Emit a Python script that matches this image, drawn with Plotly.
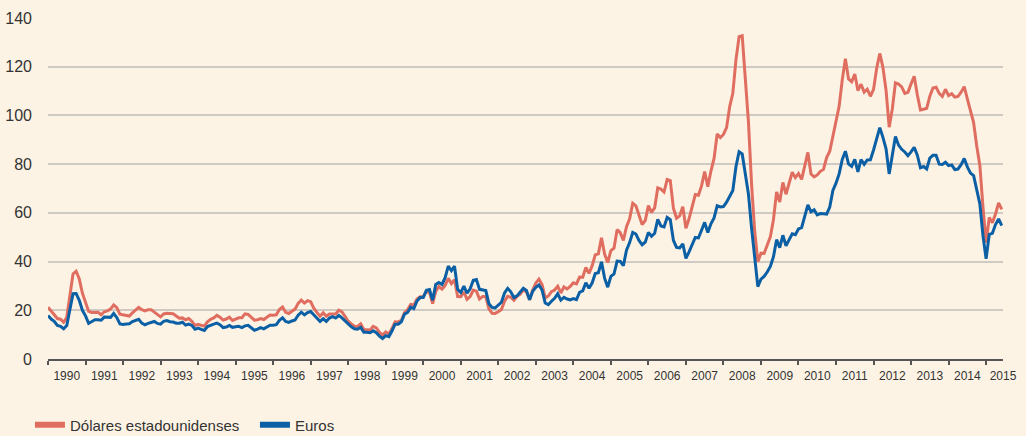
import plotly.graph_objects as go

start_year = 1990
usd = [
    21.25, 19.81, 18.39, 16.61, 16.35, 15.10, 17.17, 27.17, 34.90, 36.02, 32.82, 27.01,
    23.57, 19.54, 19.08, 19.18, 19.19, 18.17, 19.40, 19.77, 20.50, 22.21, 21.11, 18.41,
    18.16, 18.05, 17.63, 18.92, 19.89, 21.16, 20.24, 19.74, 20.27, 20.26, 19.25, 18.21,
    17.31, 18.49, 18.79, 18.69, 18.55, 17.63, 16.71, 16.87, 16.11, 16.63, 15.49, 13.77,
    14.27, 13.83, 13.50, 15.29, 16.31, 16.86, 17.91, 17.18, 15.99, 16.42, 17.16, 15.83,
    16.42, 16.90, 16.97, 18.52, 18.29, 17.21, 15.97, 16.12, 16.58, 16.20, 17.11, 18.03,
    17.95, 18.15, 20.31, 21.33, 19.15, 18.69, 19.63, 20.48, 22.84, 24.19, 22.96, 23.91,
    23.54, 20.85, 19.13, 17.56, 19.02, 17.58, 18.46, 18.60, 18.46, 20.03, 19.31, 17.48,
    15.52, 14.41, 13.43, 13.35, 14.47, 12.10, 12.13, 11.89, 13.39, 12.78, 10.98, 9.82,
    11.12, 10.27, 12.51, 15.29, 15.23, 15.86, 19.08, 20.27, 22.39, 22.14, 24.60, 25.52,
    25.51, 27.78, 27.49, 22.76, 27.74, 29.80, 28.68, 30.20, 33.14, 30.96, 32.55, 25.66,
    25.62, 27.50, 24.50, 25.66, 28.31, 27.85, 24.61, 25.68, 25.62, 20.54, 18.80, 18.71,
    19.42, 20.28, 23.70, 25.73, 25.35, 24.08, 25.74, 26.65, 28.40, 27.54, 24.34, 28.33,
    31.18, 32.77, 30.61, 25.00, 25.86, 27.65, 28.35, 29.89, 27.11, 29.61, 28.75, 29.81,
    31.28, 30.86, 33.63, 33.59, 37.57, 35.18, 38.22, 42.74, 43.20, 49.78, 43.11, 39.60,
    44.51, 45.48, 53.10, 51.88, 48.65, 54.35, 57.52, 63.98, 62.91, 58.54, 55.24, 56.86,
    62.99, 60.21, 62.06, 70.26, 69.78, 68.56, 73.67, 73.23, 61.96, 57.81, 58.76, 62.47,
    53.68, 57.56, 62.05, 67.49, 67.21, 71.05, 76.93, 70.76, 77.17, 82.34, 92.41, 90.93,
    92.18, 94.99, 103.64, 109.07, 122.80, 132.32, 132.72, 113.24, 97.23, 71.58, 52.45, 39.95,
    43.44, 43.32, 46.54, 50.18, 57.30, 68.61, 64.44, 72.51, 67.65, 72.77, 76.66, 74.46,
    76.17, 73.75, 78.83, 84.82, 75.95, 74.76, 75.58, 77.04, 77.84, 82.67, 85.28, 91.45,
    96.52, 103.72, 114.64, 123.26, 114.99, 113.83, 116.97, 110.22, 112.83, 109.55, 110.77, 107.87,
    110.69, 119.33, 125.45, 119.75, 110.34, 95.16, 102.62, 113.36, 112.86, 111.71, 109.06, 109.49,
    112.96, 116.05, 108.47, 102.25, 102.56, 102.92, 107.93, 111.28, 111.60, 109.08, 107.79, 110.76,
    108.12, 108.90, 107.48, 107.76, 109.54, 111.80, 106.77, 101.61, 97.09, 87.43, 79.44, 62.34,
    47.76, 58.10, 55.89, 59.52, 64.08, 61.48,
]
eur = [
    17.9, 16.4, 15.5, 13.8, 13.4, 12.4, 13.7, 20.9, 26.8, 26.9, 24.1, 20.0,
    17.7, 14.6, 15.4, 16.1, 16.1, 15.9, 17.2, 17.0, 17.1, 18.7, 17.0, 14.4,
    14.2, 14.4, 14.5, 15.4, 15.8, 16.3, 14.7, 14.0, 14.6, 15.1, 15.4, 14.6,
    14.3, 15.5, 15.8, 15.3, 15.2, 14.7, 14.7, 15.1, 13.9, 14.3, 13.8, 12.2,
    12.7, 12.2, 11.7, 13.3, 13.9, 14.3, 14.7, 14.1, 12.9, 13.1, 13.8, 13.0,
    13.2, 13.4, 12.9, 13.6, 13.8, 12.9, 11.8, 12.3, 12.9, 12.4, 13.0, 13.9,
    13.9, 14.1, 15.9, 16.9, 15.4, 15.0, 15.6, 16.0, 18.0, 19.2, 18.1, 19.1,
    19.5, 18.0, 16.6, 15.4, 16.5, 15.4, 16.8, 17.4, 16.8, 17.9, 16.9, 15.6,
    14.2, 13.2, 12.4, 12.2, 13.0, 11.0, 11.0, 10.8, 11.6, 10.8, 9.4, 8.4,
    9.6, 9.2, 11.5, 14.3, 14.3, 15.3, 18.4, 19.1, 21.3, 20.7, 23.8, 25.2,
    25.2, 28.2, 28.5, 24.1, 30.6, 31.4, 30.6, 33.4, 38.1, 36.3, 38.1, 28.6,
    27.3, 29.9, 27.0, 28.8, 32.3, 32.6, 28.6, 28.5, 28.1, 22.7, 21.2, 21.0,
    22.0, 23.3, 27.1, 29.0, 27.6, 25.2, 25.9, 27.3, 29.0, 28.1, 24.3, 27.8,
    29.4, 30.4, 28.3, 23.0, 22.3, 23.7, 24.9, 26.8, 24.2, 25.3, 24.6, 24.3,
    24.8, 24.4, 27.4, 28.0, 31.3, 29.0, 31.2, 35.1, 35.4, 39.9, 33.2, 29.5,
    33.9, 34.9, 40.2, 40.1, 38.3, 44.7, 47.8, 52.0, 51.3, 48.7, 46.9, 48.0,
    52.0, 50.4, 51.6, 57.3, 54.6, 54.2, 58.1, 57.2, 48.7, 45.8, 45.6, 47.3,
    41.3, 44.0, 46.9, 49.9, 49.7, 52.9, 56.1, 51.9, 55.5, 57.9, 62.9, 62.4,
    62.6, 64.4, 66.7, 69.2, 78.9, 85.1, 84.2, 75.6, 67.7, 53.7, 41.2, 29.7,
    32.8, 33.9, 35.7, 38.0, 42.0, 49.0, 45.7, 50.8, 46.5, 49.1, 51.4, 51.0,
    53.4, 53.9, 58.1, 63.3, 60.4, 61.2, 59.2, 59.7, 59.6, 59.5, 62.4, 69.2,
    72.2, 76.0, 81.9, 85.3, 80.1, 79.1, 82.0, 76.8, 81.9, 79.9, 81.7, 81.8,
    85.8, 90.2, 95.0, 91.0, 86.3, 76.0, 83.5, 91.4, 87.8, 86.1, 85.0, 83.5,
    85.0, 86.9, 83.7, 78.5, 79.0, 78.0, 82.5, 83.6, 83.6, 80.0, 79.9, 80.8,
    79.4, 79.7, 77.8, 78.0, 79.8, 82.3, 78.9, 76.3, 75.3, 69.0, 63.7, 50.6,
    41.1, 51.2, 51.6, 55.2, 57.5, 54.8,
]
years = list(range(1990, 2016))
series_names = ["Dólares estadounidenses", "Euros"]

x = [start_year + i / 12 for i in range(len(usd))]
x_end = 2015.45

RED = "#E06E60"
BLUE = "#0B5FA5"
BG = "#FDF3E5"
FONT = "Liberation Sans, Arial, sans-serif"

fig = go.Figure()
fig.add_trace(go.Scatter(x=x, y=usd, mode="lines", line=dict(color=RED, width=3),
                         showlegend=False, hoverinfo="skip"))
fig.add_trace(go.Scatter(x=x, y=eur, mode="lines", line=dict(color=BLUE, width=3),
                         showlegend=False, hoverinfo="skip"))
# legend entries
for name, col in zip(series_names, [RED, BLUE]):
    fig.add_trace(go.Scatter(x=[None], y=[None], mode="lines", name=name,
                             line=dict(color=col, width=6)))

label_vals = [yr + 0.5 for yr in years[:-1]] + [x_end]
fig.update_layout(
    width=1026, height=436,
    paper_bgcolor=BG, plot_bgcolor=BG,
    margin=dict(l=48, r=23, t=18, b=77),
    font=dict(family=FONT, color="#333333"),
    xaxis=dict(
        range=[1990, x_end], automargin=False,
        tickmode="array", tickvals=label_vals, ticktext=[str(y) for y in years],
        ticks="", showgrid=False, zeroline=False,
        showline=True, linecolor="#555555", linewidth=1.5,
        tickfont=dict(size=12, color="#333333"),
        ticklabelstandoff=5,
        minor=dict(tickmode="array", tickvals=years, ticks="outside", ticklen=4,
                   tickwidth=1.5, tickcolor="#555555", showgrid=False),
    ),
    yaxis=dict(
        range=[0, 140], automargin=False,
        tickmode="array", tickvals=list(range(0, 141, 20)),
        showgrid=True, gridcolor="#CFCAC3", gridwidth=1.5,
        zeroline=False, showline=False, ticks="",
        tickfont=dict(size=16, color="#333333"),
        ticklabelstandoff=15,
    ),
    legend=dict(
        orientation="h", xref="container", yref="container",
        x=0.0292, y=0.025, xanchor="left", yanchor="middle",
        font=dict(size=15, color="#333333"), bgcolor="rgba(0,0,0,0)",
        itemwidth=30, tracegroupgap=0, entrywidth=180,
    ),
)

fig.write_html("out.html", config={"displayModeBar": False},
               post_script="document.body.style.margin='0';document.body.style.padding='0';")
